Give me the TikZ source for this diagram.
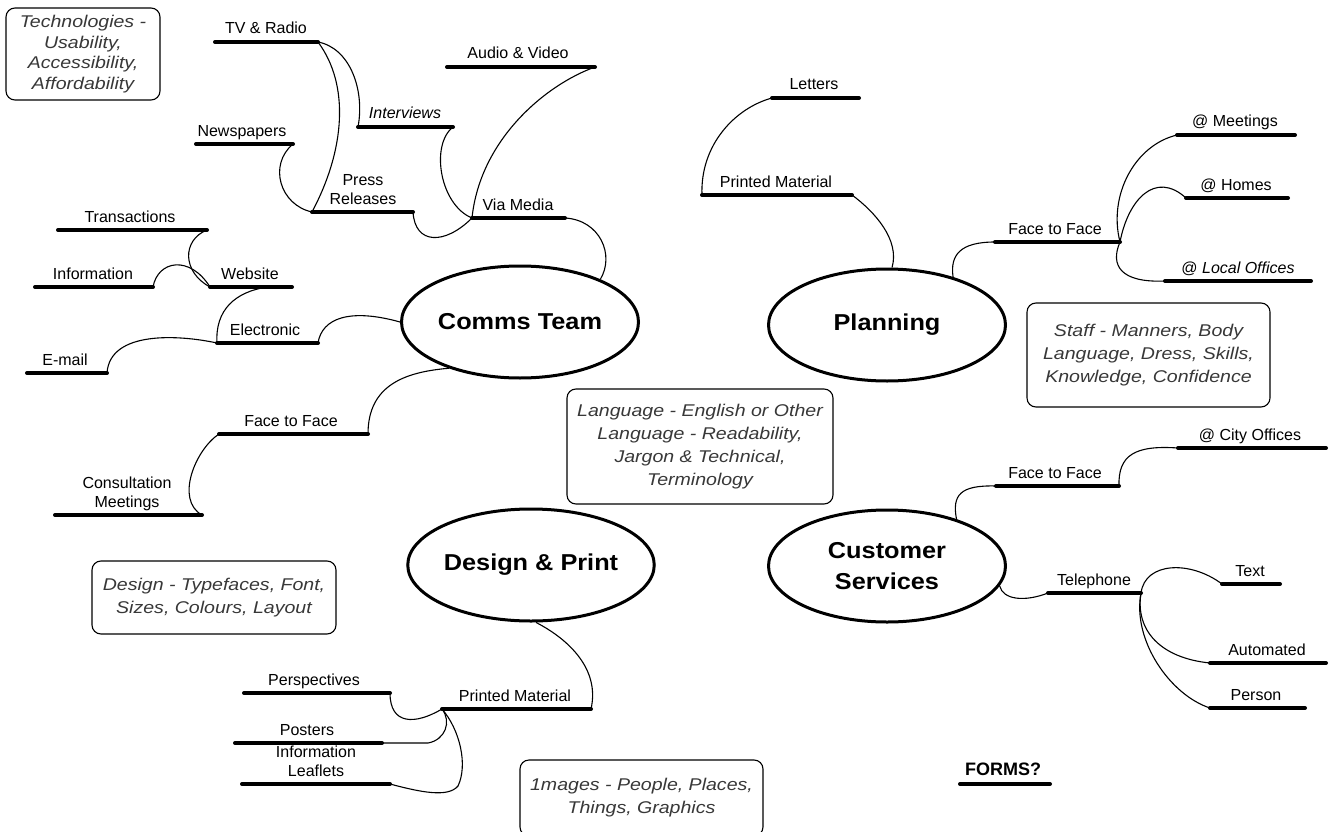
\documentclass[tikz,border=0pt]{standalone}
\usepackage{fontspec}
\setmainfont{Liberation Sans}
\newfontfamily\notefont[FakeStretch=1.15]{Liberation Sans}
\newfontfamily\hubfont[FakeStretch=1.1]{Liberation Sans}
\usetikzlibrary{shapes.geometric}
\newcommand{\mbranch}[6]{%
  \coordinate (#1-l) at (#2,#4);
  \coordinate (#1-r) at (#3,#4);
  \draw[ul] (#1-l) -- (#1-r);
  \node[lbl] (#1) at (#5,#4-8) {#6};
}
\begin{document}
\begin{tikzpicture}[x=1pt,y=-1pt,
  lbl/.style={font=\fontsize{16}{19}\selectfont, inner sep=0pt, anchor=base},
  lbl2/.style={font=\fontsize{16}{19}\selectfont, inner sep=0pt, anchor=center, align=center},
  ul/.style={line width=4pt, line cap=round},
  con/.style={line width=1.1pt},
  hub/.style={draw, ellipse, line width=3pt, minimum width=237pt, minimum height=112pt, inner sep=0pt,
    font=\hubfont\bfseries\fontsize{23}{31}\selectfont, align=center},
  note/.style={draw, rounded corners=9pt, line width=1.1pt, inner sep=0pt, align=center,
    font=\notefont\itshape\fontsize{17}{23}\selectfont, text=black!78}]
\useasboundingbox (0,0) rectangle (1333,832);
\fill[white] (0,0) rectangle (1333,832);

% ---------------- hubs ----------------
\node[hub] (comms) at (520,322) {Comms Team};
\node[hub] (planning) at (887,325) {Planning};
\node[hub] (dp) at (531,565) {Design \& Print};
\node[hub] (cs) at (887,566) {Customer\\Services};

% ---------------- notes ----------------
\node[note, minimum width=154pt, minimum height=92pt, font=\notefont\itshape\fontsize{17}{20.5}\selectfont] (tech) at (83,54)
  {Technologies -\\Usability,\\Accessibility,\\Affordability};
\node[note, minimum width=266pt, minimum height=115pt] (lang) at (700,446.5)
  {Language - English or Other\\Language - Readability,\\Jargon \& Technical,\\Terminology};
\node[note, minimum width=243pt, minimum height=104pt] (staff) at (1148.5,355)
  {Staff - Manners, Body\\Language, Dress, Skills,\\Knowledge, Confidence};
\node[note, minimum width=244pt, minimum height=73pt] (design) at (214,597.5)
  {Design - Typefaces, Font,\\Sizes, Colours, Layout};
\node[note, minimum width=243pt, minimum height=76pt] (images) at (641.5,798)
  {1mages - People, Places,\\Things, Graphics};

% ---------------- Comms Team branches ----------------
\mbranch{tv}{215}{318}{42}{266}{TV \& Radio}
\mbranch{av}{447}{595}{67}{518}{Audio \& Video}
\mbranch{iv}{358}{453}{127}{405}{\textit{Interviews}}
\mbranch{np}{196}{293}{144}{242}{Newspapers}
\coordinate (pr-l) at (312,212); \coordinate (pr-r) at (413,212);
\draw[ul] (pr-l) -- (pr-r);
\node[lbl2] (pr) at (363,190) {Press\\Releases};
\mbranch{vm}{472}{565}{218}{518}{Via Media}
\mbranch{tr}{58}{207}{230}{130}{Transactions}
\mbranch{inf}{35}{153}{287}{93}{Information}
\mbranch{ws}{210}{292}{287}{250}{Website}
\coordinate (ws-m) at (267,287);
\mbranch{el}{217}{318}{343}{265}{Electronic}
\mbranch{em}{27}{107}{373}{65}{E-mail}
\mbranch{cf}{219}{368}{434}{291}{Face to Face}
\coordinate (cm-l) at (55,515); \coordinate (cm-r) at (202,515);
\draw[ul] (cm-l) -- (cm-r);
\node[lbl2] (cm) at (127,494) {Consultation\\Meetings};

\draw[con] (vm-r) .. controls (600,220) and (615,255) .. (comms.28);
\draw[con] (vm-l) .. controls (480,140) and (545,85) .. (av-r);
\draw[con] (iv-r) .. controls (430,145) and (440,205) .. (vm-l);
\draw[con] (pr-r) .. controls (415,245) and (445,245) .. (vm-l);
\draw[con] (tv-r) .. controls (350,85) and (345,150) .. (pr-l);
\draw[con] (tv-r) .. controls (350,48) and (365,90) .. (iv-l);
\draw[con] (np-r) .. controls (268,165) and (280,205) .. (pr-l);
\draw[con] (el-r) .. controls (322,318) and (350,308) .. (comms.180);
\draw[con] (el-l) .. controls (215,310) and (235,292) .. (ws-m);
\draw[con] (el-l) .. controls (180,335) and (110,330) .. (em-r);
\draw[con] (tr-r) .. controls (182,240) and (182,272) .. (ws-l);
\draw[con] (inf-r) .. controls (158,260) and (190,255) .. (ws-l);
\draw[con] (comms.213) .. controls (405,372) and (368,385) .. (cf-r);
\draw[con] (cf-l) .. controls (195,450) and (175,500) .. (cm-r);

% ---------------- Planning branches ----------------
\mbranch{lt}{772}{859}{98}{814}{Letters}
\mbranch{ppm}{702}{852}{195}{776}{Printed Material}
\mbranch{pf}{995}{1120}{242}{1055}{Face to Face}
\mbranch{mt}{1177}{1295}{135}{1235}{@ Meetings}
\mbranch{hm}{1186}{1288}{198}{1236}{@ Homes}
\mbranch{lo}{1165}{1311}{281}{1238}{@ \textit{Local Offices}}

\draw[con] (ppm-r) .. controls (875,212) and (900,240) .. (planning.85);
\draw[con] (ppm-l) .. controls (700,145) and (735,108) .. (lt-l);
\draw[con] (planning.36) .. controls (950,255) and (960,242) .. (pf-l);
\draw[con] (pf-r) .. controls (1108,195) and (1135,145) .. (mt-l);
\draw[con] (pf-r) .. controls (1128,200) and (1155,170) .. (hm-l);
\draw[con] (pf-r) .. controls (1110,265) and (1120,283) .. (lo-l);

% ---------------- Customer Services branches ----------------
\mbranch{cf2}{996}{1119}{486}{1055}{Face to Face}
\mbranch{co}{1178}{1326}{448}{1250}{@ City Offices}
\mbranch{tel}{1048}{1141}{593}{1094}{Telephone}
\mbranch{tx}{1222}{1280}{584}{1250}{Text}
\mbranch{au}{1210}{1326}{663}{1267}{Automated}
\mbranch{ps}{1210}{1305}{708}{1256}{Person}

\draw[con] (cs.34) .. controls (952,495) and (960,485) .. (cf2-l);
\draw[con] (cf2-r) .. controls (1118,455) and (1135,445) .. (co-l);
\draw[con] (cs.350) .. controls (1003,600) and (1025,602) .. (tel-l);
\draw[con] (tel-r) .. controls (1145,562) and (1190,560) .. (tx-l);
\draw[con] (tel-r) .. controls (1135,630) and (1160,658) .. (au-l);
\draw[con] (tel-r) .. controls (1132,640) and (1170,695) .. (ps-l);

% ---------------- Design & Print branches ----------------
\mbranch{dpm}{442}{591}{709}{515}{Printed Material}
\mbranch{pe}{244}{390}{693}{314}{Perspectives}
\mbranch{po}{235}{382}{743}{307}{Posters}
\coordinate (po-e) at (428,743);
\coordinate (il-l) at (242,784); \coordinate (il-r) at (390,784);
\draw[ul] (il-l) -- (il-r);
\node[lbl2] (il) at (316,761) {Information\\Leaflets};

\draw[con] (dp.275) .. controls (570,640) and (600,670) .. (dpm-r);
\draw[con] (dpm-l) .. controls (415,725) and (390,725) .. (pe-r);
\draw[con] (dpm-l) .. controls (452,722) and (445,740) .. (po-e) -- (po-r);
\draw[con] (dpm-l) .. controls (460,730) and (468,765) .. (458,786)
               .. controls (448,798) and (420,792) .. (il-r);

% ---------------- FORMS? ----------------
\coordinate (fm-l) at (960,784); \coordinate (fm-r) at (1050,784);
\draw[ul] (fm-l) -- (fm-r);
\node[inner sep=0pt, anchor=base, font=\bfseries\fontsize{18}{21}\selectfont] (forms) at (1003,775) {FORMS?};
\end{tikzpicture}
\end{document}
